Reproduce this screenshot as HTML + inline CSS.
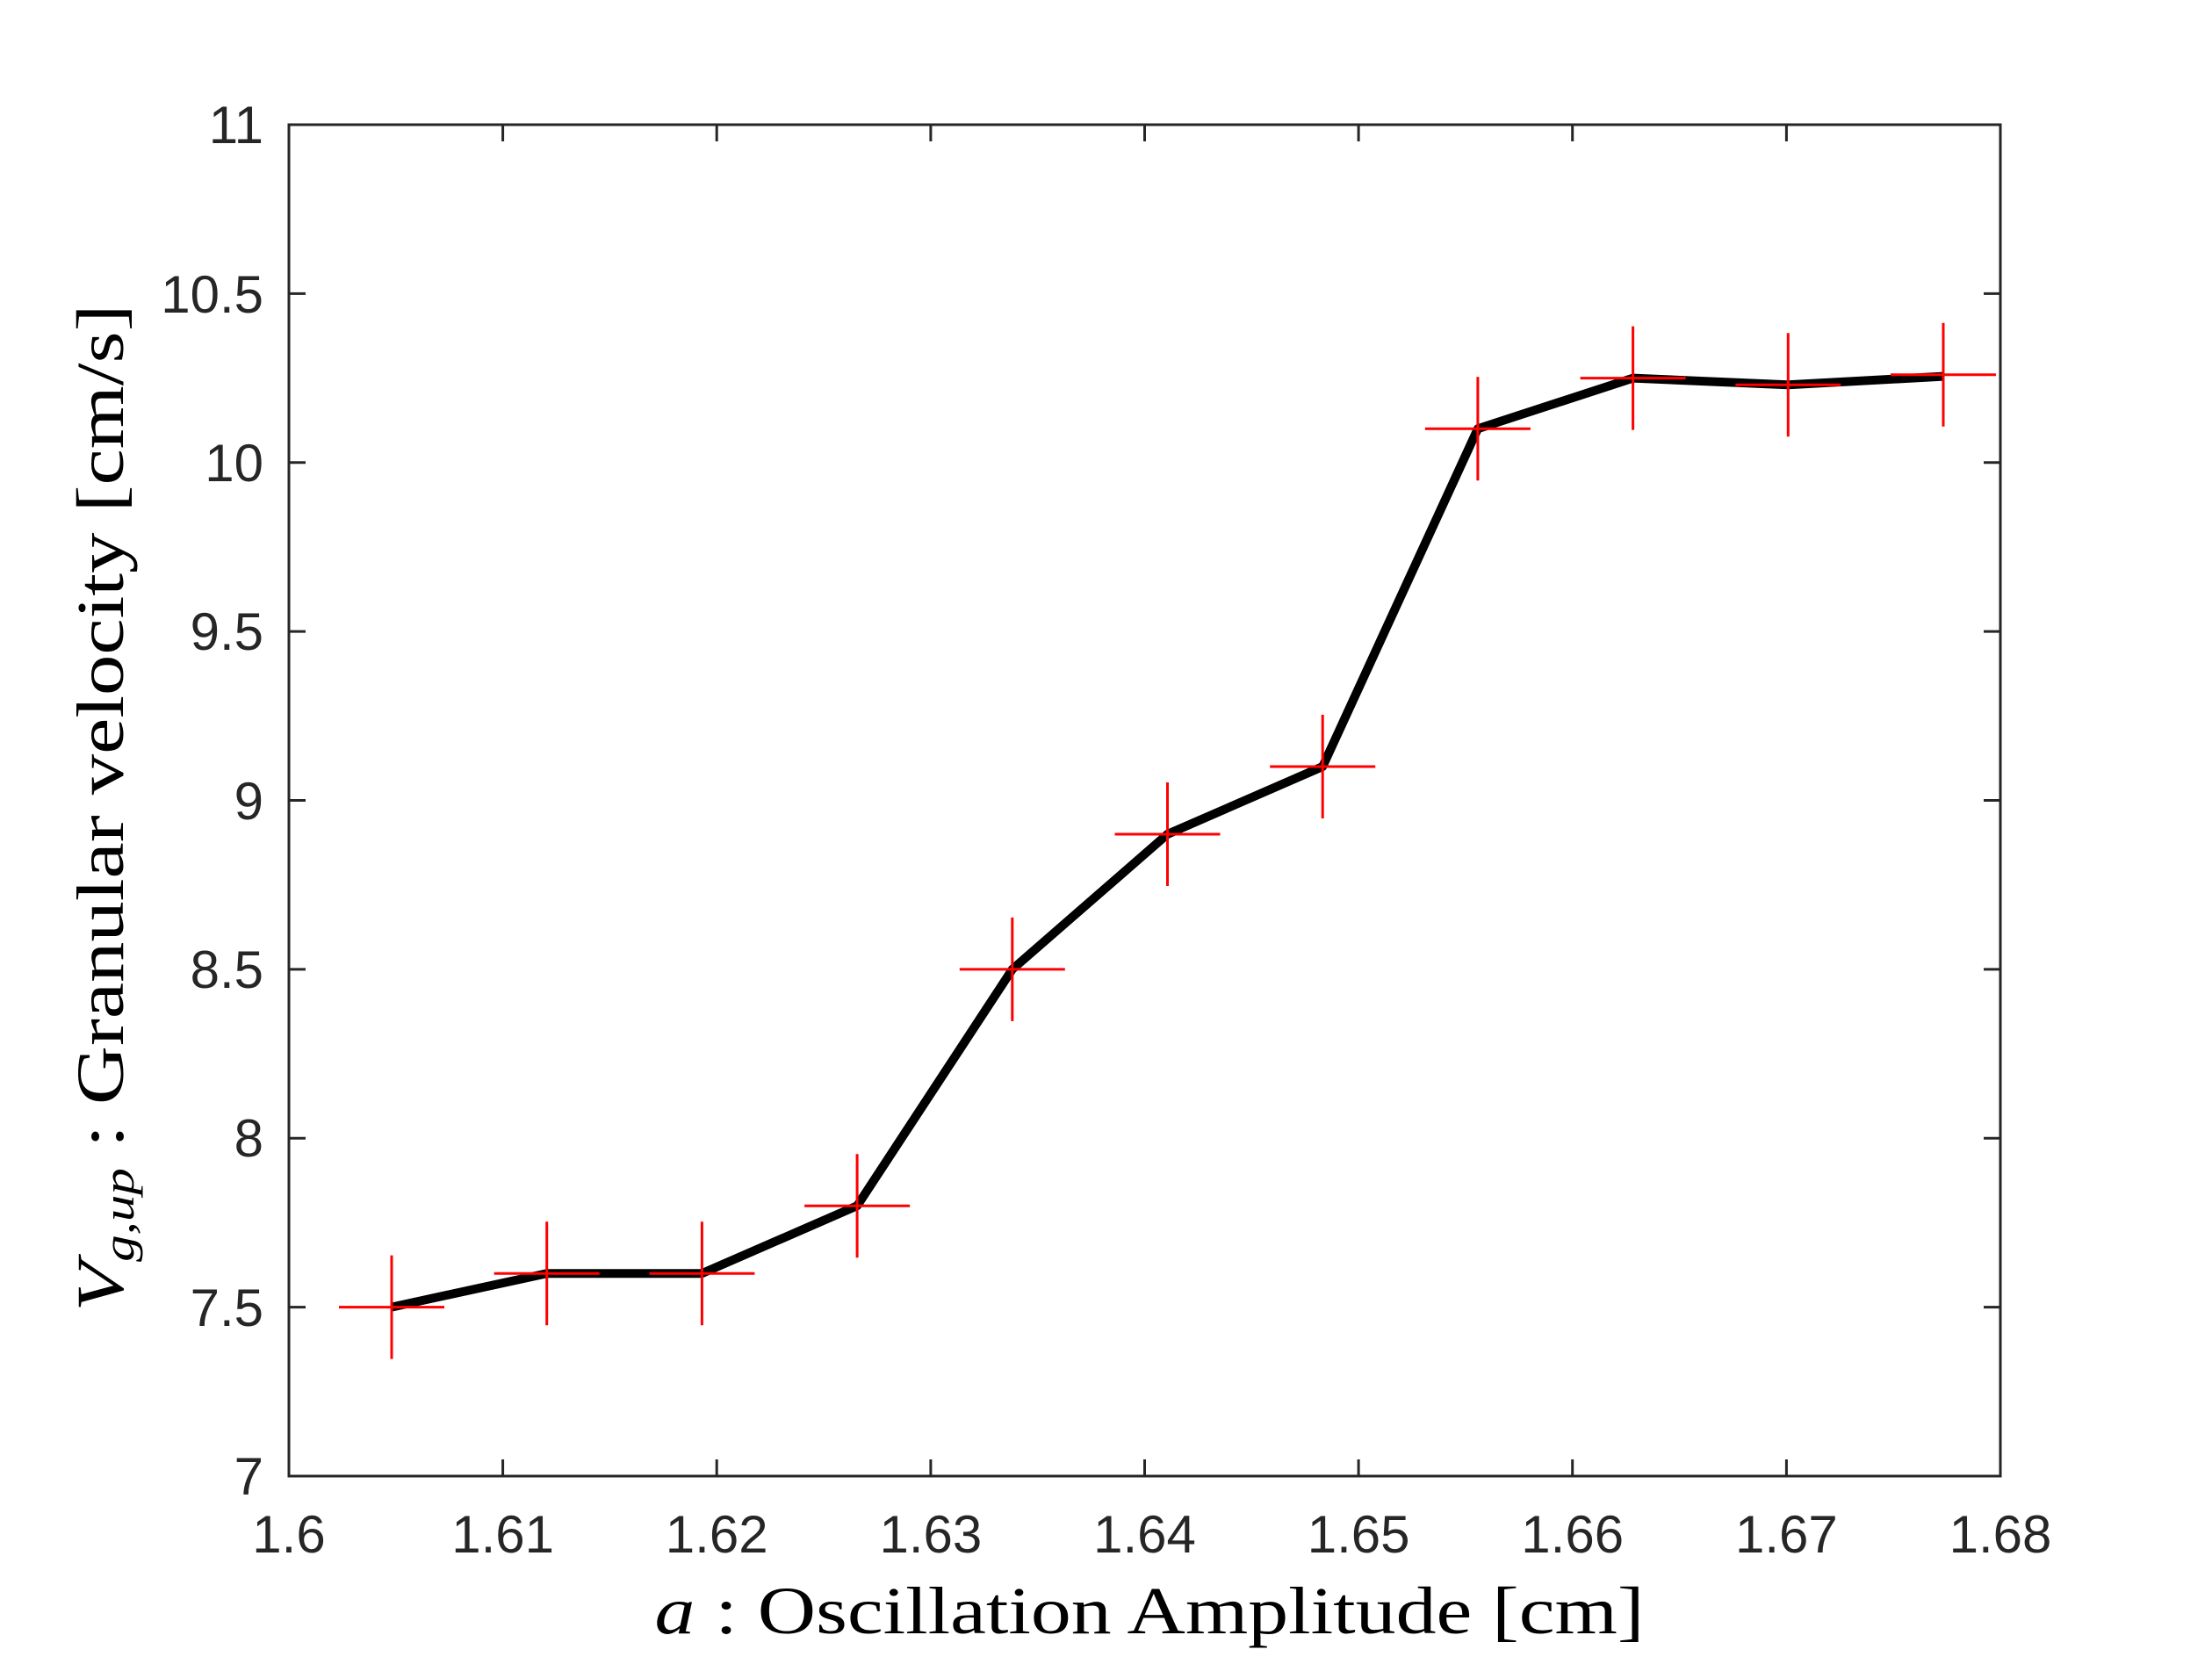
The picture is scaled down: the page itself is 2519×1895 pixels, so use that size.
<!DOCTYPE html>
<html><head><meta charset="utf-8"><style>html,body{margin:0;padding:0;background:#fff}</style></head>
<body>
<svg width="2519" height="1890" viewBox="0 0 2519 1890" xmlns="http://www.w3.org/2000/svg">
<rect width="2519" height="1890" fill="#fff"/>
<g stroke="#262626" stroke-width="3" fill="none">
<rect x="329" y="142" width="1949" height="1539"/>
<path d="M572.6 1681v-19M816.2 1681v-19M1059.9 1681v-19M1303.5 1681v-19M1547.1 1681v-19M1790.7 1681v-19M2034.4 1681v-19
M572.6 142v19M816.2 142v19M1059.9 142v19M1303.5 142v19M1547.1 142v19M1790.7 142v19M2034.4 142v19
M329 1488.6h19M329 1296.2h19M329 1103.9h19M329 911.5h19M329 719.1h19M329 526.8h19M329 334.4h19
M2278 1488.6h-19M2278 1296.2h-19M2278 1103.9h-19M2278 911.5h-19M2278 719.1h-19M2278 526.8h-19M2278 334.4h-19"/>
</g>
<g font-family="Liberation Sans, Arial, sans-serif" font-size="60" fill="#262626" text-anchor="middle">
<text x="329" y="1768">1.6</text><text x="572.6" y="1768">1.61</text><text x="816.2" y="1768">1.62</text><text x="1059.9" y="1768">1.63</text><text x="1303.5" y="1768">1.64</text><text x="1547.1" y="1768">1.65</text><text x="1790.7" y="1768">1.66</text><text x="2034.4" y="1768">1.67</text><text x="2278" y="1768">1.68</text>
</g>
<g font-family="Liberation Sans, Arial, sans-serif" font-size="60" fill="#262626" text-anchor="end">
<text x="300" y="1702">7</text><text x="300" y="1510">7.5</text><text x="300" y="1317">8</text><text x="300" y="1125">8.5</text><text x="300" y="933">9</text><text x="300" y="740">9.5</text><text x="300" y="548">10</text><text x="300" y="356">10.5</text><text x="300" y="163">11</text>
</g>
<polyline fill="none" stroke="#000" stroke-width="10" stroke-linejoin="round" points="446,1488.6 622.7,1450.2 799.4,1450.2 976.1,1373.2 1152.8,1103.9 1329.5,950 1506.2,873 1682.9,488.3 1859.6,430.6 2036.3,438.3 2213,428.6"/>
<g stroke="#ff0000" stroke-width="3" fill="none">
<path d="M446 1429.6v118M386 1488.6h120
M622.7 1391.2v118M562.7 1450.2h120
M799.4 1391.2v118M739.4 1450.2h120
M976.1 1314.2v118M916.1 1373.2h120
M1152.8 1044.9v118M1092.8 1103.9h120
M1329.5 891v118M1269.5 950h120
M1506.2 814v118M1446.2 873h120
M1682.9 429.3v118M1622.9 488.3h120
M1859.6 371.6v118M1799.6 430.6h120
M2036.3 379.3v118M1976.3 438.3h120
M2213 367.7v118M2153 426.7h120"/>
</g>
<text x="1309" y="1860" font-family="Liberation Serif, serif" font-size="76" fill="#000" text-anchor="middle" textLength="1127" lengthAdjust="spacingAndGlyphs"><tspan font-style="italic">a</tspan> : Oscillation Amplitude [cm]</text>
<text transform="translate(140,920) rotate(-90)" x="0" y="0" font-family="Liberation Serif, serif" font-size="76" fill="#000" text-anchor="middle" textLength="1147" lengthAdjust="spacingAndGlyphs"><tspan font-style="italic">V</tspan><tspan font-style="italic" font-size="50" dy="12">g,up</tspan><tspan dy="-12"> : Granular velocity [cm/s]</tspan></text>
</svg>
</body></html>
